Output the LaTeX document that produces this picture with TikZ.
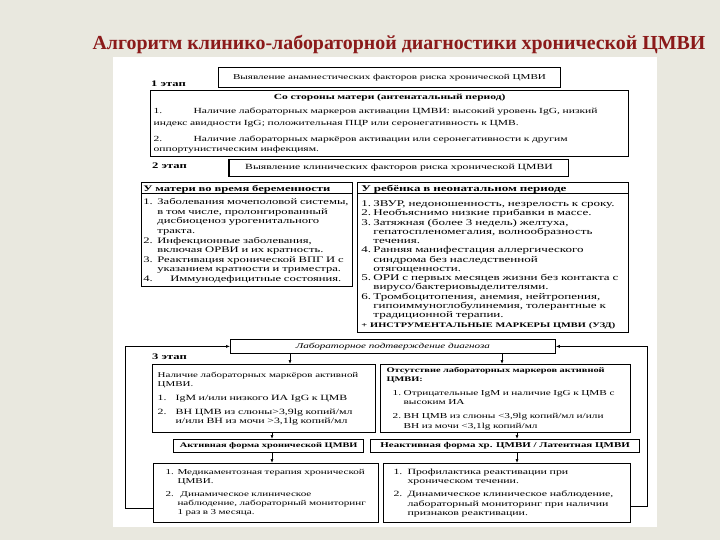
\documentclass[tikz,border=0pt]{standalone}
\usepackage{fontspec}
\setmainfont{Liberation Serif}
\newfontfamily\scanfont[FakeStretch=1.48]{Liberation Serif}
\usetikzlibrary{arrows.meta,positioning,calc}
\definecolor{paper}{HTML}{E9E8DF}
\definecolor{titlered}{HTML}{8B1A1A}
\newcommand{\nr}[2]{\makebox[#1][l]{#2}}
\newcommand{\fsz}[1]{\fontsize{#1}{9.3}\selectfont}

\begin{document}
\begin{tikzpicture}[x=1pt,y=-1pt,>={Latex[length=4pt,width=3pt]},
  box/.style={draw=black,line width=.8pt,anchor=north west,inner ysep=0pt,align=left,
    font=\scanfont\fontsize{8}{9.3}\selectfont},
  heavy/.style={box,line width=1.3pt},
  stage/.style={anchor=west,inner sep=0pt,font=\scanfont\bfseries\fontsize{8.5}{10}\selectfont},
  arr/.style={->,line width=.6pt}]
\fill[paper] (0,0) rectangle (720,540);
\fill[white] (113,57) rectangle (657,527);
\useasboundingbox (0,0) rectangle (720,540);
\node[font=\bfseries\fontsize{19.9}{22}\selectfont,text=titlered] (title) at (399,45)
  {Алгоритм клинико-лабораторной диагностики хронической ЦМВИ};
% 1 этап
\node[box,line width=1pt,minimum width=342pt,minimum height=20pt,align=center,
  font=\scanfont\fontsize{7.5}{9}\selectfont] (anamn) at (218,67)
  {Выявление анамнестических факторов риска хронической ЦМВИ};
\node[stage] (st1) at (151,84) {1 этап};
\node[heavy,inner xsep=3pt,text width=472pt,minimum width=478pt,minimum height=66pt,
  font=\scanfont\fontsize{7.8}{9.3}\selectfont] (mother) at (150,90)
  {\makebox[472pt]{\bfseries Со стороны матери (антенатальный период)}\\[5pt]
   \nr{40pt}{1.}Наличие лабораторных маркеров активации ЦМВИ: высокий уровень IgG, низкий\\[2.5pt]
   индекс авидности IgG; положительная ПЦР или серонегативность к ЦМВ.\\[7pt]
   \nr{40pt}{2.}Наличие лабораторных маркёров активации или серонегативности к другим\\[1pt]
   оппортунистическим инфекциям.};
% 2 этап
\node[box,line width=1pt,minimum width=339pt,minimum height=17pt,align=center,
  font=\scanfont\fontsize{7.9}{9}\selectfont] (clin) at (229,159)
  {Выявление клинических факторов риска хронической ЦМВИ};
\draw[line width=1.8pt] (clin.north west) -- (clin.south west);
\node[stage] (st2) at (152,166) {2 этап};
\node[box,inner xsep=2pt,text width=207pt,minimum width=211pt,minimum height=104pt,
  font=\scanfont\fontsize{8.5}{9.6}\selectfont] (preg) at (141,182)
  {\textbf{У матери во время беременности}\\[3.5pt]
   \nr{14pt}{1.}Заболевания мочеполовой системы,\\
   \nr{14pt}{}в том числе, пролонгированный\\
   \nr{14pt}{}дисбиоценоз урогенитального\\
   \nr{14pt}{}тракта.\\
   \nr{14pt}{2.}Инфекционные заболевания,\\
   \nr{14pt}{}включая ОРВИ и их кратность.\\
   \nr{14pt}{3.}Реактивация хронической ВПГ И с\\
   \nr{14pt}{}указанием кратности и триместра.\\
   \nr{14pt}{4.}\hspace{13pt}Иммунодефицитные состояния.};
\node[box,inner xsep=4pt,text width=263pt,minimum width=271pt,minimum height=150pt,
  font=\scanfont\fontsize{8.8}{9.25}\selectfont] (neo) at (357,182)
  {\textbf{У ребёнка в неонатальном периоде}\\[5.5pt]
   \nr{12pt}{1.}ЗВУР, недоношенность, незрелость к сроку.\\
   \nr{12pt}{2.}Необъяснимо низкие прибавки в массе.\\
   \nr{12pt}{3.}Затяжная (более 3 недель) желтуха,\\
   \nr{12pt}{}гепатоспленомегалия, волнообразность\\
   \nr{12pt}{}течения.\\
   \nr{12pt}{4.}Ранняя манифестация аллергического\\
   \nr{12pt}{}синдрома без наследственной\\
   \nr{12pt}{}отягощенности.\\
   \nr{12pt}{5.}ОРИ с первых месяцев жизни без контакта с\\
   \nr{12pt}{}вирусо/бактериовыделителями.\\
   \nr{12pt}{6.}Тромбоцитопения, анемия, нейтропения,\\
   \nr{12pt}{}гипоиммуноглобулинемия, толерантные к\\
   \nr{12pt}{}традиционной терапии.\\[1pt]
   \fsz{7}\textbf{+ ИНСТРУМЕНТАЛЬНЫЕ МАРКЕРЫ ЦМВИ (УЗД)}};
\draw[line width=.8pt] ([yshift=-11pt]preg.north west) -- ([yshift=-11pt]preg.north east);
\draw[line width=.8pt] ([yshift=-11pt]neo.north west) -- ([yshift=-11pt]neo.north east);
% 3 этап
\node[box,minimum width=325pt,minimum height=14pt,align=center,
  font=\scanfont\itshape\fontsize{7.5}{9}\selectfont] (labconf) at (230,339)
  {Лабораторное подтверждение диагноза};
\node[stage] (st3) at (152,357) {3 этап};
\node[heavy,inner xsep=5pt,text width=213pt,minimum width=223pt,minimum height=68pt] (actyes) at (152,364)
  {\fsz{7.4}Наличие лабораторных маркёров активной\\
   ЦМВИ.\\[4.5pt]
   \fsz{8}\nr{18pt}{1.}IgM и/или низкого ИА IgG к ЦМВ\\[4.5pt]
   \nr{18pt}{2.}ВН ЦМВ из слюны>3,9lg копий/мл\\
   \nr{18pt}{}и/или ВН из мочи >3,1lg копий/мл};
\node[heavy,inner xsep=6pt,text width=238pt,minimum width=250pt,minimum height=68pt,
  font=\scanfont\fontsize{7.6}{9.3}\selectfont] (actno) at (380,364)
  {\fsz{7}\textbf{Отсутствие лабораторных маркеров активной}\\
   \textbf{ЦМВИ:}\\[4pt]
   \fsz{7.6}\nr{17pt}{\hspace{6pt}1.}Отрицательные IgM и наличие IgG к ЦМВ с\\
   \nr{17pt}{}высоким ИА\\[5pt]
   \nr{17pt}{\hspace{6pt}2.}ВН ЦМВ из слюны <3,9lg копий/мл и/или\\
   \nr{17pt}{}ВН из мочи <3,1lg копий/мл};
\node[heavy,minimum width=190pt,minimum height=13pt,align=center,
  font=\scanfont\bfseries\fontsize{7}{9}\selectfont] (formact) at (173,439)
  {Активная форма хронической ЦМВИ};
\node[heavy,minimum width=269pt,minimum height=13pt,align=center,
  font=\scanfont\bfseries\fontsize{7.4}{9}\selectfont] (forminact) at (370,439)
  {Неактивная форма хр. ЦМВИ / Латентная ЦМВИ};
\node[box,line width=1pt,inner xsep=4pt,text width=217pt,minimum width=225pt,minimum height=59pt,
  font=\scanfont\fontsize{7.5}{9.1}\selectfont] (careact) at (153,463)
  {\nr{20pt}{\hspace{8pt}1.}Медикаментозная терапия хронической\\
   \nr{20pt}{}ЦМВИ.\\[4pt]
   \nr{20pt}{\hspace{8pt}2.}\hspace{3pt}Динамическое клиническое\\
   \nr{20pt}{}наблюдение, лабораторный мониторинг\\
   \nr{20pt}{}1 раз в 3 месяца.};
\node[box,line width=1pt,inner xsep=4pt,text width=239pt,minimum width=247pt,minimum height=59pt,
  font=\scanfont\fontsize{8}{9.1}\selectfont] (careinact) at (383,463)
  {\nr{20pt}{\hspace{6pt}1.}Профилактика реактивации при\\
   \nr{20pt}{}хроническом течении.\\[4pt]
   \nr{20pt}{\hspace{6pt}2.}Динамическое клиническое наблюдение,\\
   \nr{20pt}{}лабораторный мониторинг при наличии\\
   \nr{20pt}{}признаков реактивации.};
% connectors
\draw[arr] (labconf.south -| 290,0) -- (actyes.north -| 290,0);
\draw[arr] (labconf.south -| 502,0) -- (actno.north -| 502,0);
\draw[arr] (actyes.south -| 272,0) -- (formact.north -| 272,0);
\draw[arr] (actno.south -| 517,0) -- (forminact.north -| 517,0);
\draw[arr] (formact.south -| 272,0) -- (careact.north -| 272,0);
\draw[arr] (forminact.south -| 517,0) -- (careinact.north -| 517,0);
\draw[arr] (careact.west |- 0,508) -| (labconf.west -| 125,0) -- (labconf.west);
\draw[arr] (careinact.east |- 0,506) -| (labconf.east -| 647,0) -- (labconf.east);
\end{tikzpicture}
\end{document}
